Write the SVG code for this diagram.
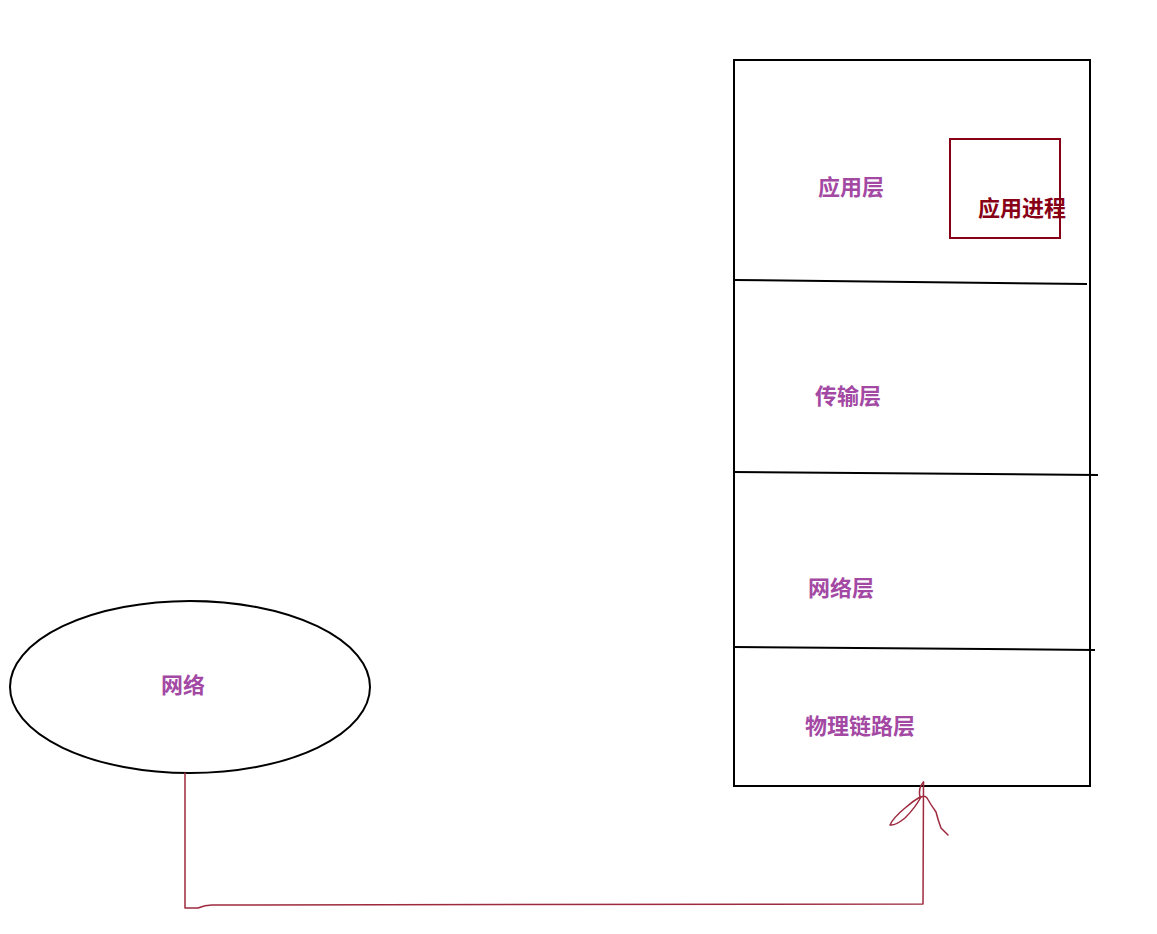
<svg xmlns="http://www.w3.org/2000/svg" width="1157" height="934" viewBox="0 0 1157 934">
<style>
.lbl{font-family:"Noto Sans CJK SC","Noto Sans",sans-serif;font-weight:bold;font-size:22px;fill:#a349a4;text-anchor:middle}
.proc{font-family:"Noto Sans CJK SC","Noto Sans",sans-serif;font-weight:bold;font-size:22px;fill:#880015;text-anchor:middle}
.blk{fill:none;stroke:#000;stroke-width:2}
.con{fill:none;stroke:#9e2a3f;stroke-width:1.5;stroke-linejoin:round;stroke-linecap:round}
</style>
<rect width="1157" height="934" fill="#fff"/>
<g id="network">
<ellipse cx="190" cy="687" rx="180" ry="86" class="blk"/>
<text x="183" y="693" class="lbl">网络</text>
</g>
<g id="stack">
<rect x="734" y="60" width="356" height="726" class="blk"/>
<path d="M734,280 L1087,284 M733,472 L1098,475 M733,647 L1095,650" class="blk"/>
</g>
<g id="app-layer"><text x="851" y="195" class="lbl">应用层</text></g>
<g id="transport-layer"><text x="848" y="404" class="lbl">传输层</text></g>
<g id="network-layer"><text x="841" y="596" class="lbl">网络层</text></g>
<g id="phys-layer"><text x="860" y="734" class="lbl">物理链路层</text></g>
<g id="app-process">
<rect x="950" y="139" width="110" height="99" fill="none" stroke="#880015" stroke-width="2"/>
<text x="1022" y="216" class="proc">应用进程</text>
</g>
<g id="connectors">
<path d="M185,773 L185,908 L198,908 Q205,905 212,905 L923,904 L923.5,782" class="con"/>
<path d="M923.5,782 Q918,788 920,797 Q913,801 905,808 Q893,818 890,825 Q895,826 905,818 Q915,808 921,797 Q925,795 927,798 Q931,805 936,812 Q938,820 941,828 Q945,832 948,835" class="con"/>
</g>
</svg>
